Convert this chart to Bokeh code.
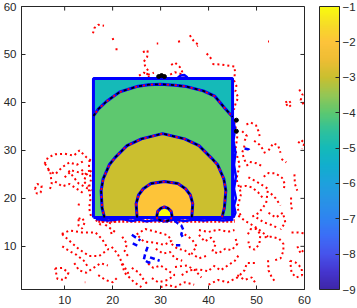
import numpy as np
from bokeh.plotting import figure
from bokeh.models import Range1d, ColorBar, LinearColorMapper, FixedTicker, ColumnDataSource
from bokeh.embed import file_html
from bokeh.resources import INLINE

# ---------------- data ----------------
x_ticks = [10, 20, 30, 40, 50, 60]
y_ticks = [10, 20, 30, 40, 50, 60]
cbar_ticks = [-9, -8, -7, -6, -5, -4, -3, -2, -1]
cbar_low, cbar_high = -9, -1
x_lim = [1, 60]
y_lim = [1, 60]

# filled contour regions (level value, outline)
fill_levels = [-5, -4, -3, -2, -1]
fill_x = [
    [16, 45, 45, 16],
    [16, 16, 17.0, 18.7, 21.5, 25.0, 27.5, 30.0, 33.0, 35.4, 38.9, 41.3, 43.3, 44.8, 45, 45],
    [18.3, 17.8, 17.6, 18.0, 19.3, 20.5, 23.0, 26.0, 30.4, 35.0, 38.0, 40.5, 41.9, 43.2, 43.6, 43.3, 42.8],
    [25.1, 24.9, 25.4, 26.4, 28.0, 30.8, 33.6, 35.2, 36.2, 36.7, 36.5],
    [29.2, 29.4, 30.0, 30.8, 31.6, 32.2, 32.4],
]
fill_y = [
    [16, 16, 45, 45],
    [16, 37.2, 38.6, 40.2, 42.2, 43.3, 43.7, 43.8, 43.6, 43.3, 42.4, 41.3, 38.9, 37.2, 37.0, 16],
    [16, 18, 21.6, 24.0, 27.0, 28.5, 31.0, 32.4, 33.5, 32.4, 31.0, 28.5, 27.0, 24.0, 21.6, 18, 16],
    [16, 18.9, 20.7, 22.0, 23.1, 23.5, 23.1, 22.0, 20.7, 18.9, 16],
    [16.2, 17.3, 17.9, 18.2, 17.9, 17.3, 16.2],
]

# contour lines (blue, with black dashes and red dots)
cline_x = [
    [16, 17.0, 18.7, 21.5, 25.0, 27.5, 30.0, 33.0, 35.4, 38.9, 41.3, 43.3, 44.8, 45],
    [18.3, 17.8, 17.6, 18.0, 19.3, 20.5, 23.0, 26.0, 30.4, 35.0, 38.0, 40.5, 41.9, 43.2, 43.6, 43.3, 42.8],
    [25.1, 24.9, 25.4, 26.4, 28.0, 30.8, 33.6, 35.2, 36.2, 36.7, 36.5],
    [29.2, 29.4, 30.0, 30.8, 31.6, 32.2, 32.4, 32.1, 31.4, 30.6, 29.8, 29.3, 29.2],
]
cline_y = [
    [37.2, 38.6, 40.2, 42.2, 43.3, 43.7, 43.8, 43.6, 43.3, 42.4, 41.3, 38.9, 37.2, 37.0],
    [16, 18, 21.6, 24.0, 27.0, 28.5, 31.0, 32.4, 33.5, 32.4, 31.0, 28.5, 27.0, 24.0, 21.6, 18, 16],
    [16, 18.9, 20.7, 22.0, 23.1, 23.5, 23.1, 22.0, 20.7, 18.9, 16],
    [16.2, 17.3, 17.9, 18.2, 17.9, 17.3, 16.2, 15.6, 15.3, 15.3, 15.5, 15.8, 16.2],
]

# square outline
square_x = [16, 45, 45, 16, 16]
square_y = [16, 16, 45, 45, 16]

# blue wiggles hugging the square outside
blue_edge_x = [
    [45.0, 45.5, 45.2, 45.6, 45.3, 45.7, 45.3, 45.7, 45.3, 45.6, 45.2],
    [16.5, 19, 22, 24, 25.5, 27, 29, 31, 33, 35, 37, 39, 41, 43, 45.2],
    [33.6, 34.2, 35.0, 35.6],
]
blue_edge_y = [
    [37.0, 34.5, 32.0, 29.5, 27.0, 24.5, 22.0, 20.0, 18.5, 17.0, 16.0],
    [15.7, 15.4, 15.7, 15.3, 15.6, 15.2, 15.5, 15.3, 15.6, 15.3, 15.6, 15.4, 15.6, 15.4, 15.6],
    [45.2, 45.6, 45.7, 45.2],
]

# black blobs on the outline
black_x = [29.6, 30.2, 30.8, 45.8, 45.8]
black_y = [45.4, 45.6, 45.4, 36.3, 34.0]

# blue dashed curves
blue_x = [
    [24.0, 25.8],
    [24.2, 25.6],
    [27.3, 26.8, 26.5, 27.5, 28.3],
    [27.8, 29.8],
    [32.9, 33.6, 34.3, 34.7, 34.3, 34.6],
    [33.2, 34.1],
    [47.5, 48.4, 48.6],
]
blue_y = [
    [12.4, 11.2],
    [10.6, 9.9],
    [9.9, 8.5, 7.2, 6.6, 6.8],
    [7.7, 7.0],
    [15.4, 14.8, 14.4, 13.5, 12.5, 12.0],
    [10.2, 10.2],
    [30.4, 30.2, 29.6],
]

# red dotted curves
red_x = [
    [15.9, 16.2, 17.0, 18.2],
    [20.0, 20.2],
    [20.6, 21.4],
    [29.2, 29.5],
    [26.3, 27.3, 27.2, 26.5, 26.8, 27.5, 27.0, 27.8],
    [32.2, 33.0, 34.0, 34.5, 34.4],
    [33.8, 34.0],
    [36.1, 36.6, 37.2, 38.0, 37.6],
    [39.6, 40.2, 40.6],
    [40.8, 42.5, 44.5, 45.4, 45.5, 45.4],
    [45.3, 45.8, 45.6, 46.2, 45.7, 45.3],
    [25.5, 26.5, 27.5, 28.6],
    [32.0, 33.0, 34.3, 35.0],
    [52.4, 52.6],
    [47.9, 48.8, 49.9, 50.4, 50.7],
    [49.5, 50.6, 51.5, 52.0],
    [47.5, 47.0, 47.5, 48.3],
    [48.6, 50.0, 51.4],
    [51.5, 52.5, 54.0, 55.3, 55.9, 55.6],
    [46.5, 47.8, 49.0, 50.3, 51.2],
    [56.0, 56.8, 57.3, 56.6, 56.0],
    [58.7, 59.3, 60.0, 59.5],
    [58.9, 59.6, 59.2, 59.8],
    [55.2, 56.2],
    [57.9, 58.0, 58.5],
    [57.2, 57.2, 57.5],
    [57.3, 58.5, 60.0],
    [48.3, 50.0, 52.4, 52.0, 50.5, 49.0],
    [45.4, 46.0, 45.6, 46.5, 45.8, 46.8, 46.0, 46.8],
    [46.2, 47.5, 49.0, 50.5, 52.4],
    [48.2, 48.8, 50.0, 50.8, 50.6, 49.6, 48.6, 48.3],
    [51.7, 53.0, 54.7, 55.6, 55.6, 55.0, 53.8],
    [52.4, 52.5, 53.2, 54.0],
    [57.0, 58.2, 59.4, 59.5, 58.3, 57.3, 57.0],
    [38.0, 40.0, 42.0, 44.0, 45.4],
    [38.0, 39.2, 40.5, 41.5, 40.8, 42.0, 43.5, 44.8, 46.0, 45.5],
    [33.0, 35.5, 37.2, 38.5],
    [32.3, 33.5, 35.0, 36.4],
    [40.0, 42.0, 44.0, 46.0, 47.5, 48.0, 50.0],
    [25.0, 26.8, 29.2, 31.5, 32.3, 30.8, 28.5, 26.5, 25.0],
    [21.9, 22.5, 23.5, 24.5, 26.0],
    [27.4, 28.5, 30.0, 31.5, 32.9, 31.5, 29.5, 28.0],
    [34.4, 36.0, 37.9, 40.0, 40.6],
    [5.8, 6.5, 8.0, 10.0, 11.9, 13.1, 14.6, 15.6],
    [5.9, 7.0, 7.3, 6.8],
    [3.8, 4.3, 5.2, 5.0, 4.2, 3.8],
    [10.0, 11.5, 13.0, 14.4, 15.6],
    [10.8, 12.9, 15.6],
    [15.2, 15.0, 15.5, 15.0, 15.4, 15.1, 15.5],
    [12.9, 13.0],
    [12.9, 13.6, 14.2, 13.6, 12.9, 12.9],
    [17.0, 18.5, 20.5, 19.0],
    [9.4, 11.0, 13.6, 16.4, 17.8, 19.1, 17.2, 15.1, 13.0, 11.5, 9.4],
    [19.8, 21.0, 22.0, 23.3],
    [8.0, 9.5, 10.8, 10.0, 8.5, 8.0],
    [14.2, 14.3],
    [6.5, 8.0, 9.5, 11.0, 12.5, 14.0],
    [8.0, 9.5, 11.0, 12.5, 14.0],
    [13.5, 14.5, 14.0, 15.0],
    [16.5, 17.5, 18.5, 19.5, 20.8],
    [9.5, 11.0, 12.5, 14.0, 15.0],
    [12.0, 13.0, 14.5, 16.0, 17.5, 19.0],
    [17.0, 18.5, 20.0, 21.0],
    [22.0, 23.0, 22.5, 23.5],
    [29.0, 30.5, 32.0, 33.0, 34.5],
    [24.0, 25.5, 26.5, 27.5],
    [35.0, 36.5, 37.5, 36.5, 38.0, 39.5],
    [30.0, 31.5, 33.0, 35.0, 37.0],
    [41.0, 42.5, 44.0, 45.5, 46.5],
    [46.0, 47.5, 49.0, 50.0],
    [52.5, 54.0, 55.5, 56.0, 55.0],
    [50.0, 51.5, 53.0, 54.5],
    [58.5, 59.2, 60.0],
    [52.5, 53.5, 54.5, 55.0],
    [47.0, 48.0, 47.5],
    [53.0, 54.0, 55.0],
]
red_y = [
    [54.4, 55.5, 56.2, 56.0],
    [53.4, 52.8],
    [51.1, 51.1],
    [52.3, 52.3],
    [50.5, 50.8, 49.5, 48.5, 47.5, 46.5, 45.5, 45.2],
    [47.8, 48.3, 47.4, 46.4, 45.5],
    [52.9, 52.0],
    [54.0, 53.2, 52.5, 52.0, 51.7],
    [50.2, 49.6, 49.0],
    [48.0, 47.9, 47.6, 47.5, 46.5, 45.2],
    [44.6, 43.5, 42.3, 41.0, 40.0, 38.5],
    [45.6, 46.2, 45.8, 46.2],
    [45.8, 46.3, 45.9, 45.5],
    [52.7, 52.7],
    [35.4, 35.8, 35.2, 34.0, 32.8],
    [32.0, 31.2, 30.0, 28.8],
    [31.0, 29.5, 28.0, 26.5],
    [27.6, 27.3, 26.6],
    [24.5, 25.3, 25.2, 24.3, 23.0, 21.6],
    [22.4, 22.6, 22.3, 21.3, 20.2],
    [40.0, 40.4, 39.5, 39.0, 40.0],
    [31.5, 32.2, 31.5, 30.3],
    [42.7, 41.6, 40.5, 39.6],
    [28.2, 27.5],
    [25.0, 23.0, 21.6],
    [20.2, 18.5, 17.1],
    [12.9, 12.9, 12.7],
    [24.4, 23.5, 22.0, 19.0, 17.0, 16.1],
    [36.0, 33.0, 30.0, 27.0, 24.0, 21.0, 18.0, 16.2],
    [16.4, 15.4, 14.5, 13.5, 12.0],
    [12.5, 13.6, 13.6, 12.5, 10.5, 9.3, 9.8, 11.0],
    [11.9, 12.0, 11.6, 10.5, 9.0, 7.5, 7.1],
    [7.1, 5.0, 3.5, 2.5],
    [7.0, 6.6, 5.5, 4.0, 3.5, 4.5, 7.0],
    [13.4, 13.0, 13.5, 13.0, 13.4],
    [12.4, 11.0, 11.8, 10.5, 9.0, 8.5, 9.5, 9.2, 10.5, 12.0],
    [5.7, 6.0, 5.0, 3.5],
    [10.5, 9.5, 9.2, 8.0],
    [2.0, 3.0, 2.5, 3.5, 5.0, 6.5, 6.5],
    [12.5, 13.6, 13.0, 12.3, 11.2, 10.3, 10.8, 11.0, 12.5],
    [6.4, 4.5, 3.5, 2.5, 1.5],
    [6.4, 5.5, 6.0, 5.0, 4.0, 3.0, 2.5, 3.5],
    [4.0, 5.0, 5.2, 4.8, 5.5],
    [27.2, 28.5, 29.2, 29.3, 28.9, 30.0, 28.5, 27.8],
    [27.2, 25.5, 23.0, 21.6],
    [22.0, 23.0, 22.6, 21.2, 21.0, 22.0],
    [24.4, 25.8, 25.4, 24.8, 25.8],
    [25.8, 23.1, 21.6],
    [28.0, 26.0, 24.0, 22.0, 20.0, 18.0, 16.2],
    [18.5, 19.0],
    [15.7, 16.0, 15.0, 13.7, 14.3, 15.7],
    [16.0, 14.5, 13.0, 12.6],
    [12.6, 13.3, 12.9, 12.9, 11.5, 9.4, 8.0, 8.0, 9.4, 10.7, 12.6],
    [9.9, 8.5, 6.5, 4.3],
    [5.4, 5.5, 4.5, 3.0, 3.2, 5.4],
    [2.5, 2.5],
    [26.0, 25.0, 26.5, 27.5, 27.0, 27.8],
    [23.5, 22.5, 23.0, 22.0, 21.0],
    [26.0, 25.0, 23.5, 22.5],
    [15.5, 14.5, 15.8, 14.8, 15.3],
    [10.0, 9.0, 8.2, 7.0, 5.5],
    [6.5, 5.0, 4.5, 5.5, 6.5, 6.0],
    [4.0, 3.0, 2.5, 3.5],
    [12.0, 10.5, 9.0, 7.5],
    [9.5, 8.5, 8.8, 7.5, 7.0],
    [5.5, 4.5, 3.0, 1.8],
    [12.5, 11.5, 10.0, 8.5, 7.5, 8.0],
    [1.5, 2.0, 1.5, 2.5, 2.0],
    [6.0, 5.0, 6.0, 7.0, 8.5],
    [4.0, 3.0, 3.5, 2.0],
    [17.0, 16.0, 17.0, 15.0, 13.5],
    [16.0, 15.0, 14.5, 13.8],
    [10.0, 8.5, 9.5],
    [30.0, 31.5, 31.0, 29.5],
    [34.0, 33.0, 32.0],
    [21.0, 20.0, 18.5],
]

# red hatch just under the square
hatch_x = [17.0, 45.5]
hatch_y = [15.3, 15.3]

# ---------------- colour map (parula-like) ----------------
anchors = [(0.0, "#3e26a8"), (0.0625, "#4536cf"), (0.125, "#4654ec"), (0.1875, "#3c6df7"),
           (0.25, "#2f84f1"), (0.3125, "#2893e6"), (0.375, "#1ea1dd"), (0.4375, "#12aece"),
           (0.5, "#14bab9"), (0.5625, "#30c19a"), (0.625, "#5cc870"), (0.6875, "#94c655"),
           (0.75, "#c9bf2f"), (0.8125, "#eebd34"), (0.875, "#fdc33a"), (0.9375, "#f6dc27"),
           (1.0, "#f9fb0e")]
a_t = np.array([a[0] for a in anchors])
a_rgb = np.array([[int(a[1][i:i + 2], 16) for i in (1, 3, 5)] for a in anchors], float)
tt = np.linspace(0, 1, 256)
cols = np.stack([np.interp(tt, a_t, a_rgb[:, k]) for k in range(3)], axis=1)
palette = ["#%02x%02x%02x" % tuple(int(round(v)) for v in c) for c in cols]
mapper = LinearColorMapper(palette=palette, low=cbar_low, high=cbar_high)

# ---------------- figure ----------------
AX = "#262626"
FONT = "Liberation Sans"
FS = "11.5px"

p = figure(frame_width=283, frame_height=283, x_range=Range1d(*x_lim), y_range=Range1d(*y_lim),
           output_backend="svg", toolbar_location=None,
           min_border_left=21, min_border_right=0, min_border_top=6, min_border_bottom=0)
p.grid.visible = False
p.outline_line_color = AX
p.outline_line_width = 1
p.background_fill_color = "white"
p.border_fill_color = "white"

p.xaxis.ticker = FixedTicker(ticks=x_ticks)
p.yaxis.ticker = FixedTicker(ticks=y_ticks)
for ax in (p.xaxis[0], p.yaxis[0]):
    ax.major_tick_in = 4
    ax.major_tick_out = 0
    ax.minor_tick_line_color = None
    ax.axis_line_color = AX
    ax.major_tick_line_color = AX
    ax.major_label_text_font = FONT
    ax.major_label_text_font_size = FS
    ax.major_label_text_color = AX
p.xaxis.major_label_standoff = 6
p.yaxis.major_label_standoff = 5

# tick marks on top and right edges (box on)
tick_len = 0.85
p.segment(x0=x_ticks, y0=[y_lim[1]] * len(x_ticks), x1=x_ticks,
          y1=[y_lim[1] - tick_len] * len(x_ticks), line_color=AX, line_width=1)
p.segment(x0=[x_lim[1]] * len(y_ticks), y0=y_ticks, x1=[x_lim[1] - tick_len] * len(y_ticks),
          y1=y_ticks, line_color=AX, line_width=1)

# filled contours
fsrc = ColumnDataSource(dict(xs=fill_x, ys=fill_y, level=fill_levels))
p.patches("xs", "ys", source=fsrc, fill_color={"field": "level", "transform": mapper}, line_color=None)

# red dotted scattered curves
p.multi_line(red_x, red_y, line_color="#ff0000", line_width=2, line_dash="2 3")
p.line(hatch_x, hatch_y, line_color="#ff0000", line_width=3.5, line_dash="2 2")

# blue outline / wiggles
p.multi_line(blue_edge_x, blue_edge_y, line_color="#0000ff", line_width=2.5)
p.line(square_x, square_y, line_color="#0000ff", line_width=3)
p.scatter(black_x, black_y, size=4, color="black")

# contour lines
p.multi_line(cline_x, cline_y, line_color="#0000ff", line_width=3)
p.multi_line(cline_x, cline_y, line_color="black", line_width=1.8, line_dash="3 5")
p.multi_line(cline_x, cline_y, line_color="#ff0000", line_width=1.8, line_dash="2 6",
             line_dash_offset=4)

# blue dashed curves
p.multi_line(blue_x, blue_y, line_color="#0000ff", line_width=2.5, line_dash="5 3")

# colour bar
cb = ColorBar(color_mapper=mapper, ticker=FixedTicker(ticks=cbar_ticks), width=20, height=283,
              padding=0, margin=0, location=(15, 0),
              major_tick_in=4, major_tick_out=0, major_tick_line_color=AX,
              minor_tick_line_color=None, bar_line_color=AX, bar_line_width=1,
              border_line_color=None, background_fill_color=None,
              major_label_text_font=FONT, major_label_text_font_size=FS,
              major_label_text_color=AX, label_standoff=3)
p.add_layout(cb, "right")

open("out.html", "w").write(file_html(p, INLINE))
